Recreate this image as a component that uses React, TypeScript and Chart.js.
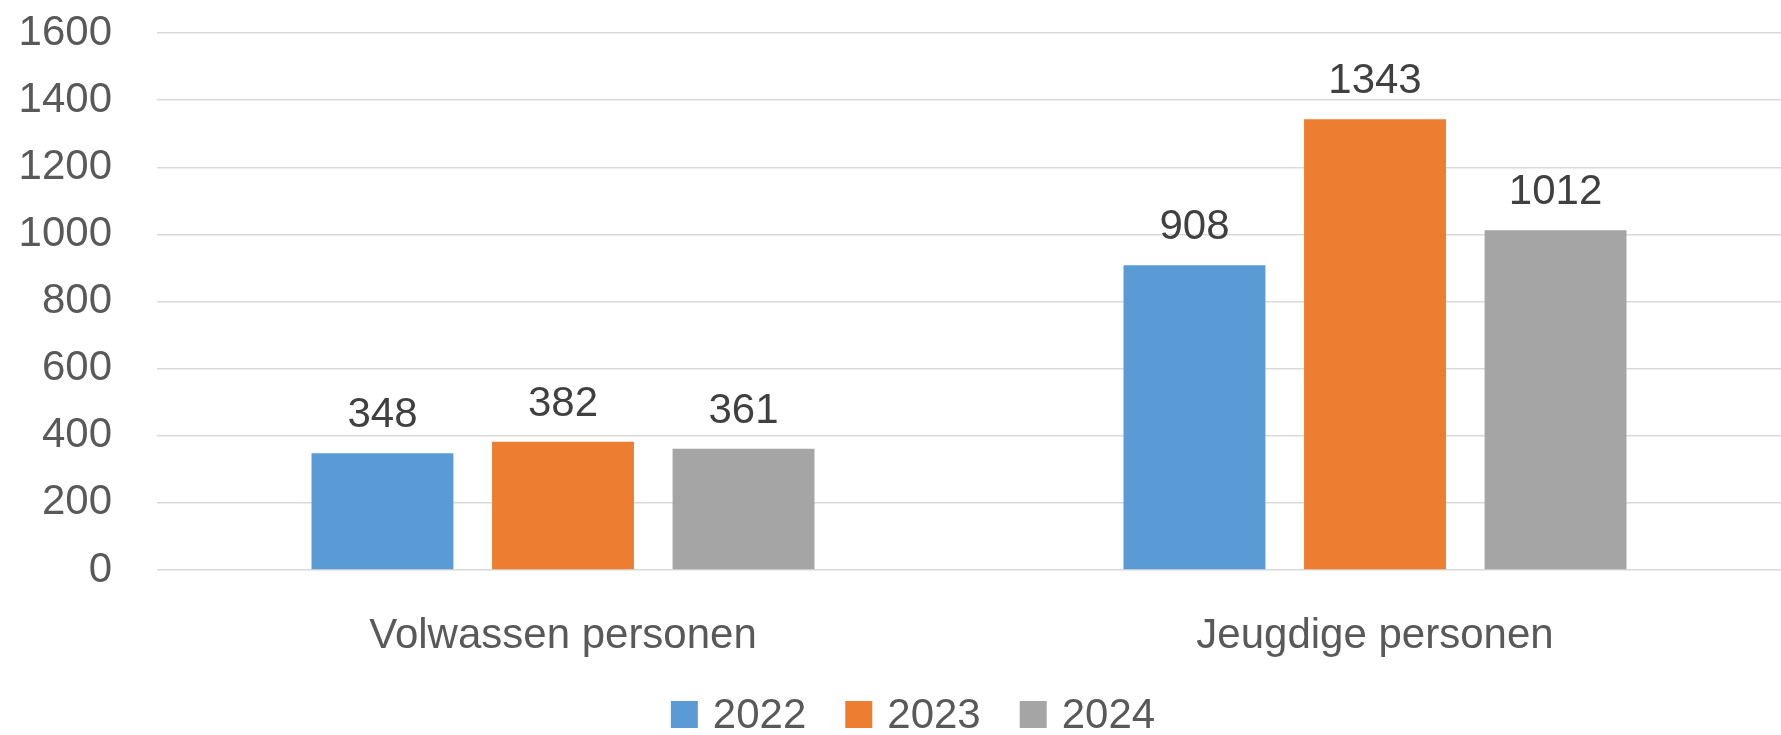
import React, { useEffect, useRef } from "react";
import { Chart, registerables } from "chart.js";

Chart.register(...registerables);

const categories = ["Volwassen personen", "Jeugdige personen"];
const seriesLabels = ["2022", "2023", "2024"];
const values2022 = [348, 908];
const values2023 = [382, 1343];
const values2024 = [361, 1012];
const yTickValues = [0, 200, 400, 600, 800, 1000, 1200, 1400, 1600];
const seriesColors = ["#5B9BD5", "#ED7D31", "#A5A5A5"];

const FONT = '"Liberation Sans", Arial, sans-serif';

const dataLabelPlugin = {
  id: "dataLabelsCustom",
  afterDatasetsDraw(chart: any) {
    const ctx = chart.ctx;
    ctx.save();
    ctx.font = `42px ${FONT}`;
    ctx.fillStyle = "#404040";
    ctx.textAlign = "center";
    ctx.textBaseline = "alphabetic";
    chart.data.datasets.forEach((ds: any, i: number) => {
      const meta = chart.getDatasetMeta(i);
      meta.data.forEach((bar: any, j: number) => {
        ctx.fillText(String(ds.data[j]), bar.x, bar.y - 26);
      });
    });
    ctx.restore();
  },
};

const legendPlugin = {
  id: "legendCustom",
  afterDraw(chart: any) {
    const ctx = chart.ctx;
    ctx.save();
    ctx.font = `42px ${FONT}`;
    const box = 27;
    const gapText = 15;
    const gapItem = 39;
    const items = chart.data.datasets.map((ds: any) => ({
      label: ds.label,
      color: ds.backgroundColor,
      w: ctx.measureText(ds.label).width,
    }));
    const total =
      items.reduce((s: number, it: any) => s + box + gapText + it.w, 0) +
      gapItem * (items.length - 1);
    let x = 913 - total / 2;
    const cy = 714.5;
    ctx.textAlign = "left";
    ctx.textBaseline = "alphabetic";
    items.forEach((it: any) => {
      ctx.fillStyle = it.color;
      ctx.fillRect(x, cy - box / 2, box, box);
      ctx.fillStyle = "#595959";
      ctx.fillText(it.label, x + box + gapText, 728);
      x += box + gapText + it.w + gapItem;
    });
    ctx.restore();
  },
};

export default function App() {
  const canvasRef = useRef<HTMLCanvasElement | null>(null);

  useEffect(() => {
    if (!canvasRef.current) return;
    const seriesValues = [values2022, values2023, values2024];
    const chart = new Chart(canvasRef.current, {
      type: "bar",
      data: {
        labels: categories,
        datasets: seriesLabels.map((label, i) => ({
          label,
          data: seriesValues[i],
          backgroundColor: seriesColors[i],
          borderWidth: 0,
          categoryPercentage: 0.667,
          barPercentage: 0.786,
        })),
      },
      options: {
        responsive: false,
        animation: false,
        devicePixelRatio: 1,
        layout: { padding: { top: 33, left: 0, right: 0, bottom: 0 } },
        plugins: {
          legend: { display: false },
          tooltip: { enabled: false },
        },
        scales: {
          x: {
            grid: { display: false },
            border: { display: false },
            ticks: {
              color: "#595959",
              font: { family: FONT, size: 42 },
              padding: 33,
              maxRotation: 0,
              autoSkip: false,
            },
            afterFit(scale: any) {
              scale.height = 165;
              scale.paddingLeft = 0;
              scale.paddingRight = 0;
            },
          },
          y: {
            min: 0,
            max: 1600,
            grid: {
              color: "#d9d9d9",
              lineWidth: 1.5,
              drawTicks: false,
            },
            border: { display: false },
            ticks: {
              color: "#595959",
              font: { family: FONT, size: 42 },
              padding: 45,
              stepSize: 200,
              callback: (v: any) => String(v),
            },
            afterBuildTicks(scale: any) {
              scale.ticks = yTickValues.map((v) => ({ value: v }));
            },
            afterFit(scale: any) {
              scale.width = 157;
              scale.paddingTop = 0;
              scale.paddingBottom = 0;
            },
          },
        },
      },
      plugins: [dataLabelPlugin, legendPlugin],
    });
    return () => chart.destroy();
  }, []);

  return (
    <div style={{ position: "fixed", left: 0, top: 0, width: 1781, height: 735, background: "#fff" }}>
      <canvas ref={canvasRef} width={1781} height={735} style={{ display: "block" }} />
    </div>
  );
}
